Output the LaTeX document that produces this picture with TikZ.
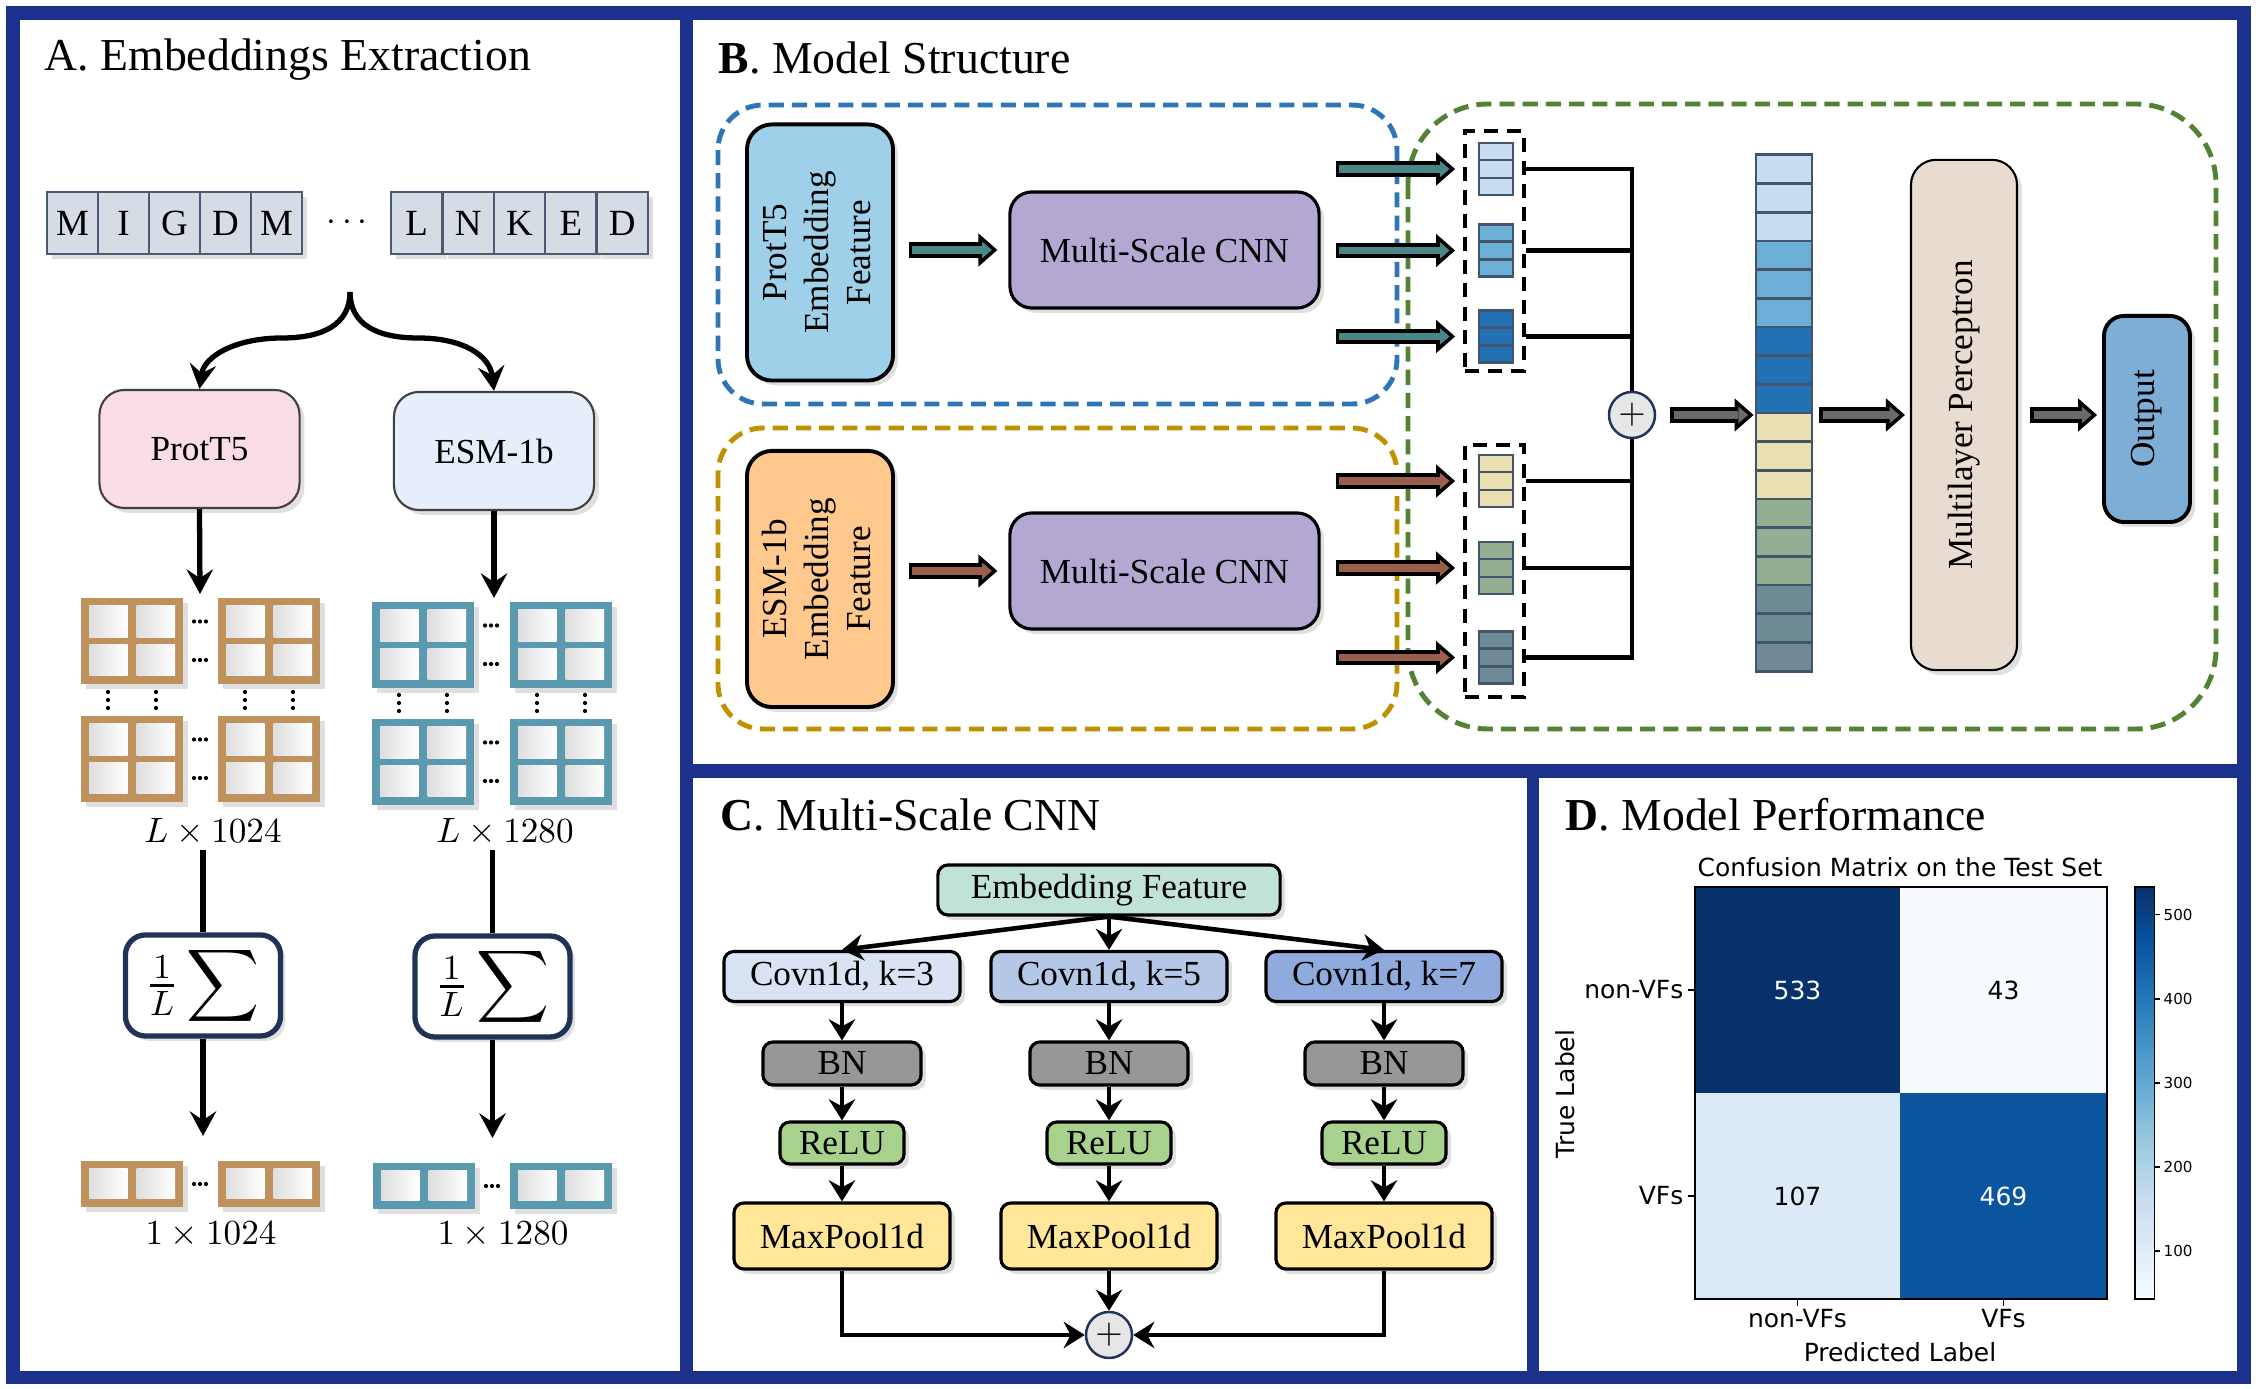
\documentclass[tikz,border=0pt]{standalone}
\usepackage{fontspec}
\setmainfont{Liberation Serif}
\newfontfamily\mplfont{DejaVu Sans}
\usepackage{amsmath}
\usepackage{tikz}
\usetikzlibrary{arrows.meta, shadows, calc}

\definecolor{framenavy}{RGB}{27,49,139}
\definecolor{seqfill}{HTML}{D6DCE3}
\definecolor{seqline}{HTML}{4A5A75}
\definecolor{protpink}{HTML}{F9DCE5}
\definecolor{esmblue}{HTML}{E6EEFC}
\definecolor{protbrown}{HTML}{BF915D}
\definecolor{esmteal}{HTML}{5B99AE}
\definecolor{meanline}{HTML}{1F3359}
\definecolor{dashblue}{HTML}{2E75B6}
\definecolor{dashgold}{HTML}{BF9000}
\definecolor{dashgreen}{HTML}{548235}
\definecolor{featprot}{HTML}{9FD0E9}
\definecolor{featesm}{HTML}{FFC88C}
\definecolor{cnnpurple}{HTML}{B4A7D1}
\definecolor{vecline}{HTML}{44546A}
\definecolor{vc0}{HTML}{C6DCF0}
\definecolor{vc1}{HTML}{6BAED6}
\definecolor{vc2}{HTML}{2171B5}
\definecolor{vc3}{HTML}{E9DFB2}
\definecolor{vc4}{HTML}{93AF93}
\definecolor{vc5}{HTML}{6E8B95}
\definecolor{mlpbeige}{HTML}{E8DBD0}
\definecolor{outblue}{HTML}{7EAED5}
\definecolor{plusgrey}{HTML}{E6E6E6}
\definecolor{arrteal}{HTML}{4A8587}
\definecolor{arrbrown}{HTML}{98604A}
\definecolor{arrgrey}{HTML}{6A6A6A}
\definecolor{efgreen}{HTML}{C0E3D5}
\definecolor{conva}{HTML}{DAE3F3}
\definecolor{convb}{HTML}{B4C7E7}
\definecolor{convc}{HTML}{8FAADC}
\definecolor{bngrey}{HTML}{979797}
\definecolor{relugreen}{HTML}{A9D18E}
\definecolor{poolyellow}{HTML}{FFE699}
\definecolor{bl0}{HTML}{F7FBFF}
\definecolor{bl1}{HTML}{DEEBF7}
\definecolor{bl2}{HTML}{C6DBEF}
\definecolor{bl3}{HTML}{9ECAE1}
\definecolor{bl4}{HTML}{6BAED6}
\definecolor{bl5}{HTML}{4292C6}
\definecolor{bl6}{HTML}{2171B5}
\definecolor{bl7}{HTML}{08519C}
\definecolor{bl8}{HTML}{08306B}
\definecolor{cm107}{HTML}{DCE9F6}
\definecolor{cm469}{HTML}{0B559F}

\tikzstyle{softshadow} = [drop shadow={opacity=0.25, shadow xshift=1.4pt, shadow yshift=-1.4pt}]
\tikzstyle{paneltitle} = [anchor=base west, inner sep=0pt, font=\fontsize{13}{15}\selectfont]
\tikzstyle{seqcell} = [rectangle, draw=seqline, line width=0.6pt, fill=seqfill, minimum width=0.51cm, minimum height=0.62cm, inner sep=0pt, font=\fontsize{10.5}{12}\selectfont, softshadow]
\tikzstyle{plmbox} = [rectangle, rounded corners=0.25cm, draw=black!75, line width=0.6pt, minimum width=2cm, minimum height=1.18cm, font=\fontsize{10}{12}\selectfont, softshadow]
\tikzstyle{meanbox} = [rectangle, rounded corners=0.2cm, draw=meanline, line width=1.5pt, fill=white, minimum width=1.55cm, minimum height=1.01cm, inner sep=0pt, font=\fontsize{14}{16}\selectfont, softshadow]
\tikzstyle{dimlabel} = [font=\fontsize{10}{12}\selectfont, inner sep=1pt]
\tikzstyle{arrow} = [line width=1.5pt, -{Stealth[length=7pt, width=7.5pt, inset=2.5pt]}]
\tikzstyle{plainline} = [line width=1.5pt]
\tikzstyle{featbox} = [rectangle, rounded corners=0.25cm, draw=black, line width=1.1pt, minimum width=1.46cm, minimum height=2.56cm, inner sep=0pt, font=\fontsize{10}{12}\selectfont, softshadow]
\tikzstyle{cnnbox} = [rectangle, rounded corners=0.22cm, draw=black, line width=0.9pt, fill=cnnpurple, minimum width=3.09cm, minimum height=1.16cm, font=\fontsize{10}{12}\selectfont, softshadow]
\tikzstyle{branchdash} = [line width=1.4pt, dash pattern=on 4.3pt off 2.3pt, rounded corners=0.45cm]
\tikzstyle{groupbox} = [rectangle, draw=black, line width=1.1pt, dash pattern=on 4pt off 2.6pt, minimum width=0.59cm, inner sep=0pt]
\tikzstyle{smallvec} = [rectangle, draw=vecline, line width=0.7pt, minimum width=0.34cm, minimum height=0.52cm, inner sep=0pt]
\tikzstyle{busline} = [line width=1.2pt]
\tikzstyle{sumnode} = [circle, draw=meanline, line width=0.7pt, fill=plusgrey, minimum size=0.46cm, inner sep=0pt, font=\fontsize{10}{12}\selectfont]
\tikzstyle{layerbox} = [rectangle, rounded corners=0.1cm, draw=black, line width=0.9pt, inner sep=0pt, font=\fontsize{10}{12}\selectfont, softshadow]
\tikzstyle{arrowc} = [line width=1.3pt, -{Stealth[length=6pt, width=7.5pt, inset=2pt]}]
\tikzstyle{mpl} = [inner sep=0pt, font=\mplfont\fontsize{7.1}{8.5}\selectfont]
\tikzset{fatarrow/.style={line width=4.3pt, draw=black, -{Triangle[length=5.4pt, width=9.4pt, line width=0.4pt]},
	postaction={draw=#1, line width=2.2pt, -{Triangle[length=2.8pt, width=4.8pt, line width=0pt]}, shorten >=1.55pt, shorten <=1pt}}}

% embedding matrices
\newcommand{\gridblock}[3]{%
	\fill[#3, softshadow] (#1,#2) rectangle ++(102,86);
	\foreach \dx in {8,55.5} {\foreach \dy in {8,46.5}
		{\shade[left color=black!13, right color=white] ({#1+\dx},{#2+\dy}) rectangle ++(38.5,31.5);}}
}
\newcommand{\rowblock}[3]{%
	\fill[#3, softshadow] (#1,#2) rectangle ++(102,46);
	\foreach \dx in {8,55.5}
		{\shade[left color=black!13, right color=white] ({#1+\dx},{#2+8}) rectangle ++(38.5,30);}
}
\newcommand{\rowdots}[2]{\foreach \d in {-6,0,6} {\fill ({#1+\d},#2) circle (0.6pt);}}
\newcommand{\coldots}[2]{\foreach \d in {-8,0,8} {\fill (#1,{#2+\d}) circle (0.6pt);}}

\begin{document}
\begin{tikzpicture}[x=0.01cm, y=-0.01cm]
	\useasboundingbox (0,0) rectangle (2256,1389);
	\fill[white] (0,0) rectangle (2256,1389);
	\fill[framenavy] (6,6) rectangle (2251,1384);
	\fill[white] (20,20) rectangle (680,1371);
	\fill[white] (693,20) rectangle (2237,764);
	\fill[white] (693,778) rectangle (1527,1371);
	\fill[white] (1539,778) rectangle (2237,1371);

	% A. Embeddings Extraction
	\node[paneltitle] (titleA) at (44,71) {A. Embeddings Extraction};
	\foreach \c [count=\i from 0] in {M,I,G,D,M}
		\node[seqcell] (sa\i) at ({72.5+51*\i},223) {\c};
	\foreach \c [count=\i from 0] in {L,N,K,E,D}
		\node[seqcell] (sb\i) at ({416.7+51.4*\i},223) {\c};
	\node[font=\fontsize{10}{12}\selectfont] (seqdots) at (350,223) {$\cdots$};

	\node[plmbox, fill=protpink] (prot) at (199.5,449) {ProtT5};
	\node[plmbox, fill=esmblue] (esm) at (494,451) {ESM-1b};
	\coordinate (split) at (350,292);
	\draw[arrow] (split) .. controls (350,325) and (322,338) .. (282,338) .. controls (236,338) and (204,356) .. (prot.north);
	\draw[arrow] (split) .. controls (350,325) and (378,338) .. (418,338) .. controls (464,338) and (490,356) .. (esm.north);

	\foreach \x in {81,218} {\foreach \y in {598,716} {\gridblock{\x}{\y}{protbrown}}}
	\foreach \x in {372,510} {\foreach \y in {602,719} {\gridblock{\x}{\y}{esmteal}}}
	\foreach \y in {621.5,660,739.5,778} {\rowdots{200}{\y}}
	\foreach \y in {625.5,664,742.5,781} {\rowdots{491}{\y}}
	\foreach \x in {108,156,245,293} {\coldots{\x}{700}}
	\foreach \x in {399,447,537,585} {\coldots{\x}{703}}

	\coordinate (gridA) at (200,594);
	\coordinate (gridB) at (494,598);
	\draw[arrow] (prot.south) -- (gridA);
	\draw[arrow] (esm.south) -- (gridB);

	\node[dimlabel] (dimA) at (213,832) {$L\times 1024$};
	\node[dimlabel] (dimB) at (505,832) {$L\times 1280$};
	\node[meanbox] (meanA) at (203,985.5) {$\tfrac{1}{L}\displaystyle\sum$};
	\node[meanbox] (meanB) at (492.5,986.5) {$\tfrac{1}{L}\displaystyle\sum$};
	\draw[plainline] (meanA.north |- dimA.south) -- (meanA.north);
	\draw[plainline] (meanB.north |- dimB.south) -- (meanB.north);
	\coordinate (vecA) at (203,1136);
	\coordinate (vecB) at (492.5,1138);
	\draw[arrow] (meanA.south) -- (vecA);
	\draw[arrow] (meanB.south) -- (vecB);

	\rowblock{81}{1161}{protbrown} \rowblock{218}{1161}{protbrown}
	\rowblock{373}{1163}{esmteal} \rowblock{510}{1163}{esmteal}
	\rowdots{200}{1184} \rowdots{492}{1186}
	\node[dimlabel] (poolA) at (211,1235) {$1\times 1024$};
	\node[dimlabel] (poolB) at (503,1235) {$1\times 1280$};

	% B. Model Structure
	\node[paneltitle] (titleB) at (718,74) {\textbf{B}. Model Structure};
	\draw[branchdash, draw=dashgreen, rounded corners=0.8cm] (1408,104) rectangle (2216,729);
	\draw[branchdash, draw=dashblue] (718,105) rectangle (1397,404);
	\draw[branchdash, draw=dashgold] (718,428) rectangle (1397,729);

	\node[featbox, fill=featprot] (featA) at (820,252.5) {\rotatebox{90}{\begin{tabular}{@{}c@{}}ProtT5\\Embedding\\Feature\end{tabular}}};
	\node[featbox, fill=featesm] (featB) at (820,579) {\rotatebox{90}{\begin{tabular}{@{}c@{}}ESM-1b\\Embedding\\Feature\end{tabular}}};
	\node[cnnbox] (cnnA) at (1164.5,250) {Multi-Scale CNN};
	\node[cnnbox] (cnnB) at (1164.5,571) {Multi-Scale CNN};
	\draw[fatarrow=arrteal] ($(featA.east |- cnnA.west)+(14,0)$) -- ($(cnnA.west)+(-11,0)$);
	\draw[fatarrow=arrbrown] ($(featB.east |- cnnB.west)+(14,0)$) -- ($(cnnB.west)+(-11,0)$);

	\node[groupbox, minimum height=2.4cm] (grpA) at (1494.5,251) {};
	\node[groupbox, minimum height=2.52cm] (grpB) at (1494.5,571) {};
	\foreach \n/\y/\k in {v1/169/0, v2/250.5/1, v3/336.5/2, v4/481/3, v5/568/4, v6/657.5/5} {
		\node[smallvec, fill=vc\k] (\n) at (1496,\y) {};
		\draw[vecline, line width=0.7pt] ($(\n.north west)!0.333!(\n.south west)$) -- ($(\n.north east)!0.333!(\n.south east)$);
		\draw[vecline, line width=0.7pt] ($(\n.north west)!0.667!(\n.south west)$) -- ($(\n.north east)!0.667!(\n.south east)$);
	}
	\foreach \n in {v1,v2,v3}
		\draw[fatarrow=arrteal] ($(cnnA.east |- \n)+(15,0)$) -- ($(grpA.west |- \n)+(-8,0)$);
	\foreach \n in {v4,v5,v6}
		\draw[fatarrow=arrbrown] ($(cnnB.east |- \n)+(15,0)$) -- ($(grpB.west |- \n)+(-8,0)$);

	\node[sumnode] (plusB) at (1632,415) {$+$};
	\draw[busline] (grpA.east |- v1) -| (plusB.north);
	\draw[busline] (grpB.east |- v6) -| (plusB.south);
	\foreach \n/\g in {v2/grpA, v3/grpA, v4/grpB, v5/grpB}
		\draw[busline] (\g.east |- \n) -- (plusB |- \n);

	\foreach \i in {0,...,17} {
		\pgfmathtruncatemacro{\k}{floor(\i/3)}
		\filldraw[fill=vc\k, draw=vecline, line width=0.8pt] (1756,{155+28.667*\i}) rectangle (1812,{155+28.667*(\i+1)});
	}
	\node[rectangle, draw=vecline, line width=0.8pt, minimum width=0.56cm, minimum height=5.16cm, inner sep=0pt] (longvec) at (1784,413) {};
	\node[featbox, fill=mlpbeige, line width=0.6pt, minimum width=1.06cm, minimum height=5.1cm] (mlp) at (1964,415) {\rotatebox{90}{Multilayer Perceptron}};
	\node[featbox, fill=outblue, minimum width=0.86cm, minimum height=2.06cm, rounded corners=0.2cm] (out) at (2147,419) {\rotatebox{90}{Output}};
	\draw[fatarrow=arrgrey] ($(plusB.east)+(14,0)$) -- ($(longvec.west |- plusB)+(-1,0)$);
	\draw[fatarrow=arrgrey] ($(longvec.east |- plusB)+(6,0)$) -- ($(mlp.west)+(-5,0)$);
	\draw[fatarrow=arrgrey] ($(mlp.east)+(12,0)$) -- ($(out.west |- mlp.east)+(-5,0)$);

	% C. Multi-Scale CNN
	\node[paneltitle] (titleC) at (720,831) {\textbf{C}. Multi-Scale CNN};
	\node[layerbox, fill=efgreen, minimum width=3.42cm, minimum height=0.5cm] (ef) at (1109,890) {Embedding Feature};
	\node[sumnode] (plusC) at (1109,1335) {$+$};
	\foreach \k/\x/\c in {3/842/conva, 5/1109/convb, 7/1384/convc} {
		\node[layerbox, fill=\c, minimum width=2.36cm, minimum height=0.5cm] (conv\k) at (\x,976.5) {Covn1d, k=\k};
		\node[layerbox, fill=bngrey, minimum width=1.58cm, minimum height=0.43cm] (bn\k) at (\x,1063.5) {BN};
		\node[layerbox, fill=relugreen, minimum width=1.24cm, minimum height=0.42cm] (relu\k) at (\x,1143) {ReLU};
		\node[layerbox, fill=poolyellow, minimum width=2.16cm, minimum height=0.66cm] (pool\k) at (\x,1236) {MaxPool1d};
		\draw[arrowc] (ef.south) -- (conv\k.north);
		\draw[arrowc] (conv\k) -- (bn\k);
		\draw[arrowc] (bn\k) -- (relu\k);
		\draw[arrowc] (relu\k) -- (pool\k);
	}
	\draw[arrowc] (pool5) -- (plusC);
	\draw[arrowc] (pool3.south) |- (plusC.west);
	\draw[arrowc] (pool7.south) |- (plusC.east);

	% D. Model Performance
	\node[paneltitle] (titleD) at (1565,831) {\textbf{D}. Model Performance};
	\node[mpl, anchor=base] (cmtitle) at (1900,877) {Confusion Matrix on the Test Set};
	\fill[bl8] (1695,887) rectangle (1900,1093);
	\fill[bl0] (1900,887) rectangle (2107,1093);
	\fill[cm107] (1695,1093) rectangle (1900,1299);
	\fill[cm469] (1900,1093) rectangle (2107,1299);
	\draw[line width=0.5pt] (1695,887) rectangle (2107,1299);
	\node[mpl, text=white] (c11) at (1797.5,990) {533};
	\node[mpl] (c12) at (2003.5,990) {43};
	\node[mpl] (c21) at (1797.5,1196) {107};
	\node[mpl, text=white] (c22) at (2003.5,1196) {469};
	\foreach \y/\lab [count=\i] in {990/non-VFs, 1196/VFs} {
		\draw[line width=0.4pt] (1688,\y) -- (1695,\y);
		\node[mpl, anchor=east] (yl\i) at (1684,\y) {\lab};
	}
	\foreach \x/\lab [count=\i] in {1797.5/non-VFs, 2003.5/VFs} {
		\draw[line width=0.4pt] (\x,1299) -- (\x,1306);
		\node[mpl, anchor=north] (xl\i) at (\x,1309) {\lab};
	}
	\node[mpl, rotate=90] (ylab) at (1565,1094) {True Label};
	\node[mpl] (xlab) at (1900,1352) {Predicted Label};

	\foreach \i [count=\j from 1] in {0,...,7}
		{\shade[bottom color=bl\i, top color=bl\j] (2135,{1299-51.5*\i}) rectangle (2154.5,{1299-51.5*(\i+1)});}
	\draw[line width=0.5pt] (2135,887) rectangle (2154.5,1299);
	\foreach \v in {100,200,300,400,500} {
		\pgfmathsetmacro{\ty}{1299-(\v-43)/490*412}
		\draw[line width=0.4pt] (2154.5,\ty) -- (2160,\ty);
		\node[mpl, font=\mplfont\fontsize{4.3}{5}\selectfont, anchor=west] (cb\v) at (2163,\ty) {\v};
	}
\end{tikzpicture}
\end{document}
